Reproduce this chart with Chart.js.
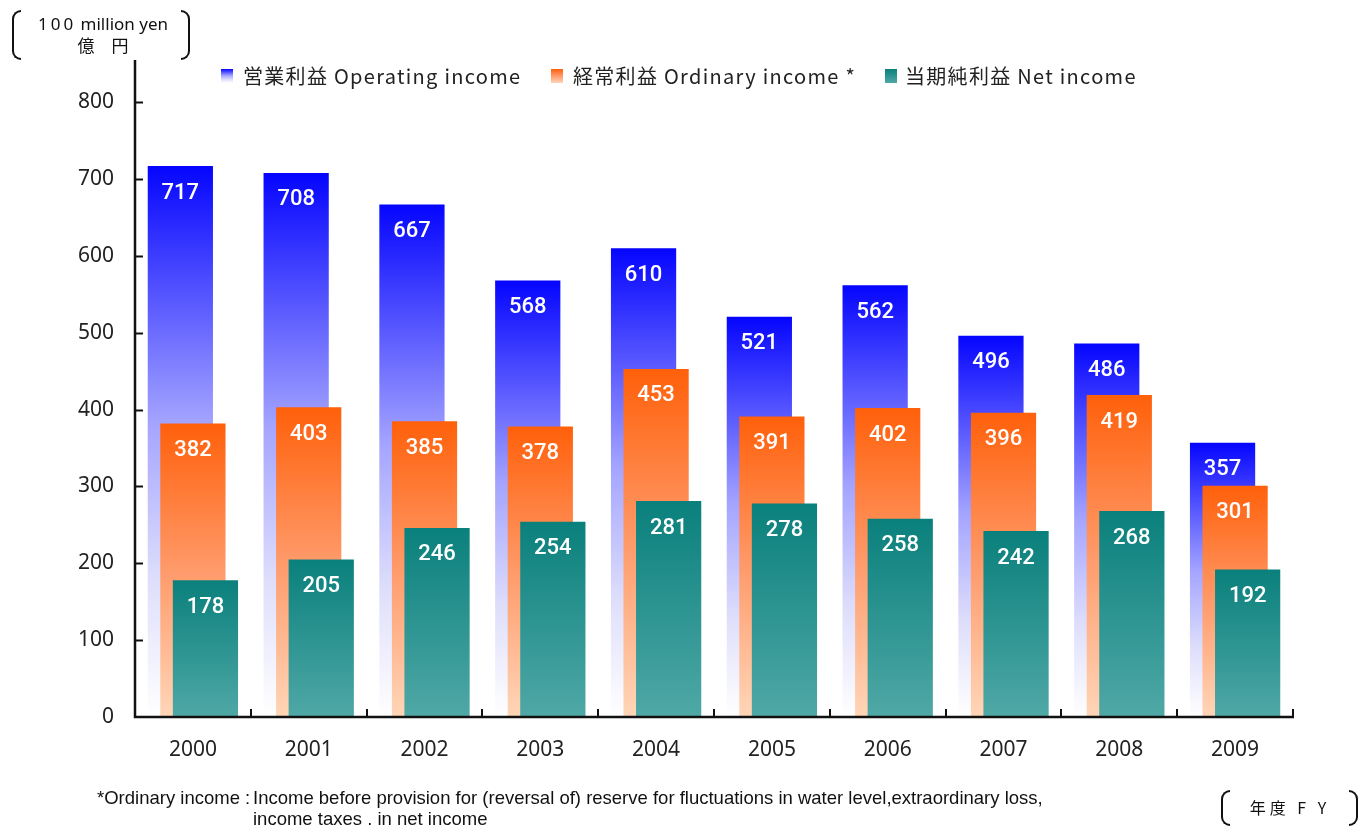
<!DOCTYPE html>
<html>
<head>
<meta charset="utf-8">
<script src="https://cdn.jsdelivr.net/npm/chart.js@4/dist/chart.umd.min.js"></script>
<style>
  html, body { margin: 0; padding: 0; background: #fff; }
  #wrap { position: relative; width: 1360px; height: 827px; overflow: hidden; font-family: "Noto Sans", "Noto Sans CJK JP", sans-serif; color: #222; }
  #chart { position: absolute; left: 0; top: 0; }
  .br { position: absolute; border: 2px solid #111; }
  .br.l { border-right: none; border-radius: 9px 0 0 9px; width: 7px; }
  .br.r { border-left: none; border-radius: 0 9px 9px 0; width: 7px; }
  #unit { position: absolute; left: 22px; top: 13px; width: 162px; text-align: center; font-size: 17px; line-height: 22px; color: #111; }
  #legend { position: absolute; top: 62px; left: 0; font-family: "Noto Sans CJK JP", sans-serif; font-size: 20px; color: #222; letter-spacing: 1.3px; }
  #legend span.item { position: absolute; white-space: nowrap; line-height: 28px; }
  #legend i { position: absolute; top: 7px; width: 12px; height: 14px; }
  #note { position: absolute; left: 97px; top: 787px; font-family: "Liberation Sans", Arial, sans-serif; font-size: 18.5px; line-height: 21px; color: #111; white-space: nowrap; }
  #note .k { display: inline-block; width: 156px; }
  #fy { position: absolute; left: 1232px; top: 795px; width: 116px; text-align: center; font-size: 16px; color: #111; font-family: "Noto Sans CJK JP", sans-serif; letter-spacing: 4px; }
</style>
</head>
<body>
<div id="wrap">
  <canvas id="chart" width="1360" height="827"></canvas>
  <div class="br l" style="left:12px; top:10px; height:46px;"></div>
  <div class="br r" style="left:181px; top:10px; height:46px;"></div>
  <div id="unit"><span style="letter-spacing:3px">100</span> million yen<br>億　円</div>
  <div id="legend"></div>
  <div id="note">
    <div><span class="k">*Ordinary income :</span>Income before provision for (reversal of) reserve for fluctuations in water level,extraordinary loss,</div>
    <div><span class="k"></span>income taxes . in net income</div>
  </div>
  <div class="br l" style="left:1221px; top:790px; height:32px;"></div>
  <div class="br r" style="left:1349px; top:790px; height:32px;"></div>
  <div id="fy">年度 F Y</div>
</div>
<script>
const years = ['2000', '2001', '2002', '2003', '2004', '2005', '2006', '2007', '2008', '2009'];
const operatingIncome = [717, 708, 667, 568, 610, 521, 562, 496, 486, 357];
const ordinaryIncome = [382, 403, 385, 378, 453, 391, 402, 396, 419, 301];
const netIncome = [178, 205, 246, 254, 281, 278, 258, 242, 268, 192];
const yTicks = [0, 100, 200, 300, 400, 500, 600, 700, 800];

const seriesNames = ['営業利益 Operating income', '経常利益 Ordinary income *', '当期純利益 Net income'];
const blueStops = [[0, '#0505ff'], [0.47, '#a5a5ff'], [0.75, '#dedefb'], [1, '#ffffff']];
const orangeStops = [[0, '#ff600a'], [0.5, '#ff9a6a'], [1, '#ffd6b8']];
const tealStops = [[0, '#0a807c'], [1, '#4fa8a6']];

// legend built as html so the little boxes can carry a css gradient
const legendPos = [[221, 243], [551, 573], [885, 905]];
const legendCss = [blueStops, orangeStops, tealStops].map(st =>
  'linear-gradient(to bottom,' + st.map(s => s[1] + ' ' + (s[0] * 100) + '%').join(',') + ')');
const legend = document.querySelector('#legend');
seriesNames.forEach((name, i) => {
  const box = document.createElement('i');
  box.style.left = legendPos[i][0] + 'px';
  box.style.background = legendCss[i];
  legend.appendChild(box);
  const t = document.createElement('span');
  t.className = 'item';
  t.style.left = legendPos[i][1] + 'px';
  t.textContent = name;
  legend.appendChild(t);
});

// one vertical gradient per bar, from its top down to zero
const barGradient = (stops) => (ctx) => {
  const chart = ctx.chart;
  const y = chart.scales.y;
  if (!chart.chartArea || !y || ctx.raw == null) return stops[0][1];
  const top = y.getPixelForValue(ctx.raw);
  const bottom = y.getPixelForValue(0);
  if (!isFinite(top) || !isFinite(bottom)) return stops[0][1];
  const g = chart.ctx.createLinearGradient(0, top, 0, bottom);
  stops.forEach(s => g.addColorStop(s[0], s[1]));
  return g;
};

// chart.js paints the first dataset on top; we want blue at the back
const layered = {
  id: 'layered',
  beforeDatasetDraw() { return false; },
  afterDatasetsDraw(chart) {
    const ctx = chart.ctx;
    const area = chart.chartArea;
    for (let i = 0; i < 3; i++) chart.getDatasetMeta(i).controller.draw();

    ctx.save();
    ctx.fillStyle = '#fff';
    ctx.font = '500 22px Roboto';
    ctx.textAlign = 'center';
    ctx.textBaseline = 'middle';
    for (let i = 0; i < 3; i++) {
      const meta = chart.getDatasetMeta(i);
      meta.data.forEach((bar, j) => {
        ctx.fillText(String(chart.data.datasets[i].data[j]), bar.x, bar.y + 27);
      });
    }

    // axes on top of the bars, tick marks point inward
    ctx.strokeStyle = '#111';
    ctx.lineWidth = 2.5;
    ctx.beginPath();
    ctx.moveTo(area.left, area.top);
    ctx.lineTo(area.left, area.bottom);
    ctx.lineTo(area.right + 1, area.bottom);
    ctx.stroke();

    ctx.lineWidth = 2;
    const ys = chart.scales.y;
    yTicks.slice(1).forEach(v => {
      const p = Math.round(ys.getPixelForValue(v)) + 0.5;
      ctx.beginPath();
      ctx.moveTo(area.left, p);
      ctx.lineTo(area.left + 8, p);
      ctx.stroke();
    });
    const step = (area.right - area.left) / years.length;
    for (let k = 1; k <= years.length; k++) {
      const p = Math.round(area.left + step * k);
      ctx.beginPath();
      ctx.moveTo(p, area.bottom - 8);
      ctx.lineTo(p, area.bottom);
      ctx.stroke();
    }
    ctx.restore();
  }
};

const commonBar = {
  categoryPercentage: 0.325,
  barPercentage: 5.2,
  borderWidth: 0
};

new Chart(document.querySelector('#chart'), {
  type: 'bar',
  data: {
    labels: years,
    datasets: [
      { label: seriesNames[0], data: operatingIncome, backgroundColor: barGradient(blueStops), ...commonBar },
      { label: seriesNames[1], data: ordinaryIncome, backgroundColor: barGradient(orangeStops), ...commonBar },
      { label: seriesNames[2], data: netIncome, backgroundColor: barGradient(tealStops), ...commonBar }
    ]
  },
  options: {
    responsive: false,
    animation: false,
    events: [],
    layout: { padding: { left: 0, top: 60, right: 67, bottom: 0 } },
    plugins: {
      legend: { display: false },
      tooltip: { enabled: false }
    },
    scales: {
      x: {
        grid: { display: false, drawTicks: false },
        border: { display: false },
        ticks: { color: '#222', padding: 20, font: { family: '"Noto Sans"', size: 21 } },
        afterFit: (scale) => { scale.height = 110; }
      },
      y: {
        min: 0,
        max: 855,
        grid: { display: false, drawTicks: false },
        border: { display: false },
        ticks: { color: '#222', padding: 21, font: { family: '"Noto Sans"', size: 21 } },
        afterBuildTicks: (scale) => { scale.ticks = yTicks.map(v => ({ value: v })); },
        afterFit: (scale) => { scale.width = 135; }
      }
    }
  },
  plugins: [layered]
});
</script>
</body>
</html>
